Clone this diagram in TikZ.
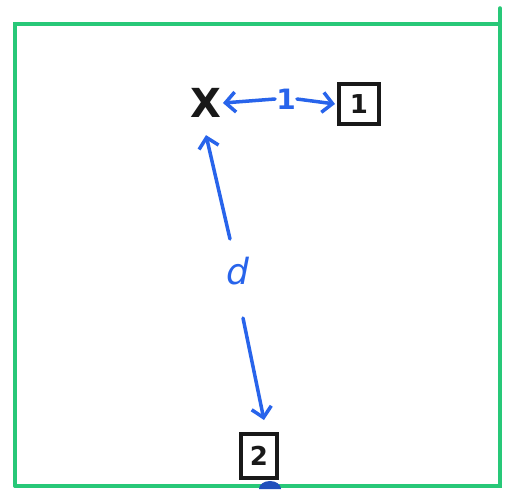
\documentclass[tikz,border=0pt]{standalone}
\usepackage{fontspec}
\setmainfont{DejaVu Sans}
\usetikzlibrary{arrows.meta}
\definecolor{frame}{RGB}{40,200,120}
\definecolor{pen}{RGB}{40,100,235}
\definecolor{ink}{RGB}{25,25,25}
\tikzset{
  x=1pt, y=-1pt,
  numbox/.style={draw=ink, line width=4pt, minimum size=40pt, inner sep=0pt,
    text=ink, font=\fontsize{26}{26}\selectfont\bfseries},
  bluearrow/.style={draw=pen, line width=3.5pt, line cap=round,
    -{Straight Barb[length=10pt, width=20pt, line width=3.5pt]}},
  bluelabel/.style={text=pen, inner sep=1pt},
}
\begin{document}
\begin{tikzpicture}
  \useasboundingbox (0,0) rectangle (505,489);
  % green frame
  \draw[frame, line width=3.5pt, line cap=round]
    (15,486) -- (15,24) -- (500,24);
  \draw[frame, line width=3.5pt, line cap=round] (500,8) -- (500,486) -- (15,486);
  % marker blot under box 2
  \fill[pen!80!black] (259,489) arc[start angle=180, end angle=360, x radius=11, y radius=8] -- cycle;

  % nodes
  \node[text=ink, font=\fontsize{40}{40}\selectfont\bfseries] (X) at (206,103) {X};
  \node[numbox] (b1) at (359,104) {1};
  \node[numbox, minimum width=36pt, minimum height=44pt] (b2) at (259,456) {2};
  \node[bluelabel, font=\fontsize{28}{28}\selectfont\bfseries] (one) at (286,99) {1};
  \node[bluelabel, font=\fontsize{36}{36}\selectfont\itshape] (d) at (238,271) {d};
  \coordinate (dt) at (230,239);
  \coordinate (db) at (243,318);

  % connectors
  \draw[bluearrow] (one.west) -- ([xshift=-2pt]X.east);
  \draw[bluearrow] (one.east) -- ([xshift=-2pt]b1.west);
  \draw[bluearrow] (dt) -- ([yshift=-14pt,xshift=0pt]X.south);
  \draw[bluearrow] (db) -- ([yshift=12pt,xshift=5pt]b2.north);
\end{tikzpicture}
\end{document}
